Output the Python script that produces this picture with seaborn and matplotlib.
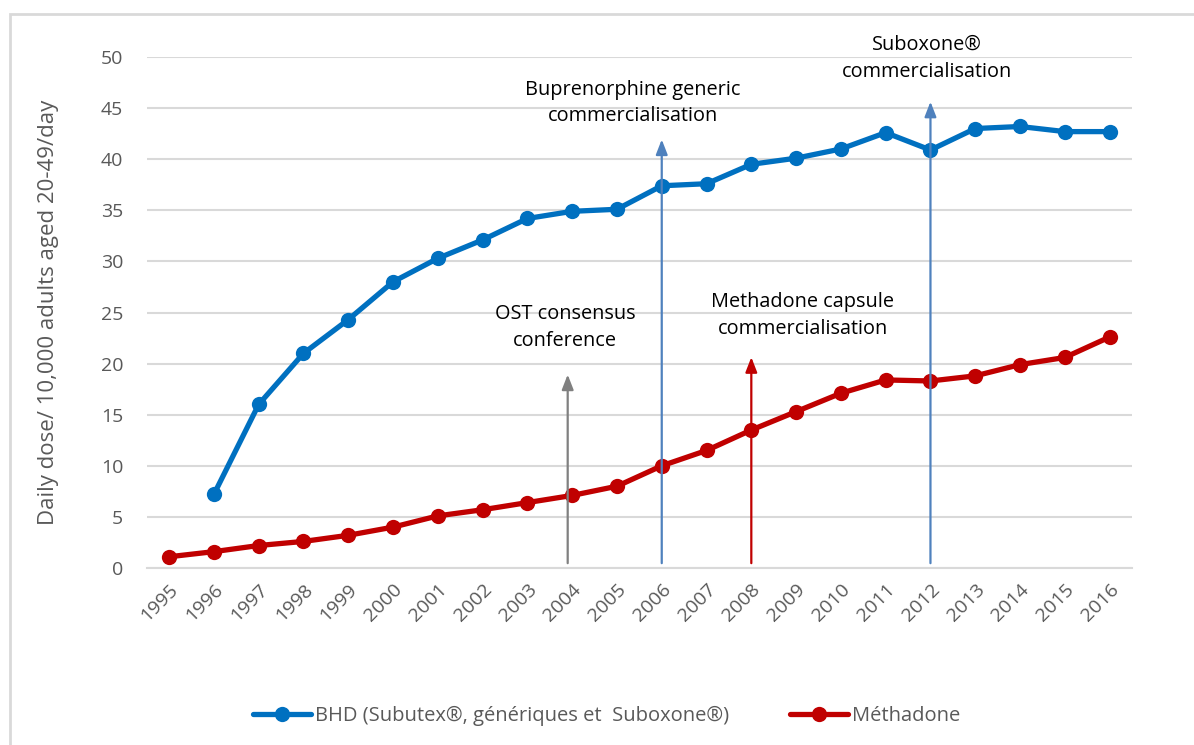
import matplotlib
matplotlib.use("Agg")
import matplotlib.pyplot as plt
import seaborn as sns
import pandas as pd
from matplotlib.patches import Rectangle

# --- values ---
years = list(range(1995, 2017))
bhd_years = list(range(1996, 2017))
bhd = [7.2, 16.0, 21.0, 24.3, 28.0, 30.3, 32.1, 34.2, 34.9, 35.1, 37.4,
       37.6, 39.5, 40.1, 41.0, 42.6, 40.9, 43.0, 43.2, 42.7, 42.7]
methadone = [1.1, 1.6, 2.2, 2.6, 3.2, 4.0, 5.1, 5.7, 6.4, 7.1, 8.0, 10.0,
             11.5, 13.5, 15.3, 17.1, 18.4, 18.3, 18.8, 19.9, 20.6, 22.6]

series_names = ["BHD (Subutex®, génériques et  Suboxone®)", "Méthadone"]
series_colors = ["#0070C0", "#C00000"]

# events: arrow position, arrow top, label text, label centre
event_years = [2003.9, 2006, 2008, 2012]
event_tops = [19.2, 42.2, 20.9, 45.9]
event_labels = ["OST consensus\nconference",
                "Buprenorphine generic\ncommercialisation",
                "Methadone capsule\ncommercialisation",
                "Suboxone®\ncommercialisation"]
event_label_x = [2003.84, 2005.36, 2009.15, 2011.92]
event_label_y = [23.5, 45.5, 24.7, 49.85]
event_colors = ["#808080", "#4F81BD", "#C00000", "#4F81BD"]

df = pd.concat([
    pd.DataFrame({"year": bhd_years, "value": bhd, "serie": series_names[0]}),
    pd.DataFrame({"year": years, "value": methadone, "serie": series_names[1]}),
])

sns.set_style("white")
plt.rcParams["font.family"] = ["Open Sans", "DejaVu Sans"]

fig = plt.figure(figsize=(11.94, 7.45), dpi=100)
ax = fig.add_axes([146.7 / 1194, 1 - 568 / 745, (1132 - 146.7) / 1194, (568 - 57) / 745])

sns.lineplot(data=df, x="year", y="value", hue="serie", palette=series_colors,
             hue_order=series_names, marker="o", markersize=11, linewidth=3.8,
             markeredgewidth=0, ax=ax, legend=False, zorder=3)

ax.set_xlim(1994.5, 2016.5)
ax.set_ylim(0, 50)
ax.set_yticks(range(0, 51, 5))
ax.yaxis.grid(True, color="#D9D9D9", linewidth=1.5)
ax.set_xticks(years)
ax.set_xticklabels([str(y) for y in years], rotation=45, ha="right",
                   rotation_mode="anchor", fontsize=14, color="#595959")
ax.set_xticks([y - 0.5 for y in years] + [2016.5], minor=True)
ax.tick_params(axis="x", which="major", length=0, pad=9)
ax.tick_params(axis="x", which="minor", length=7, color="#D9D9D9", width=1.5)
ax.tick_params(axis="y", length=0, labelsize=14, labelcolor="#595959", pad=17)
for s in ["top", "right", "left"]:
    ax.spines[s].set_visible(False)
ax.spines["bottom"].set_color("#D9D9D9")
ax.spines["bottom"].set_linewidth(1.5)
ax.set_xlabel("")
ax.set_ylabel("Daily dose/ 10,000 adults aged 20-49/day", fontsize=16,
              color="#595959", labelpad=30)

for x, top, lab, lx, ly, c in zip(event_years, event_tops, event_labels,
                                   event_label_x, event_label_y, event_colors):
    ax.annotate("", xy=(x, top), xytext=(x, 0.2),
                arrowprops=dict(arrowstyle="-|>,head_length=0.9,head_width=0.35",
                                color=c, lw=1.6), zorder=4)
    ax.text(lx, ly, lab, ha="center", va="center", fontsize=14.3,
            color="black", linespacing=1.45, zorder=5)

handles = [plt.Line2D([], [], color=c, marker="o", markersize=11, linewidth=3.8,
                      markeredgewidth=0) for c in series_colors]
fig.legend(handles, series_names, loc="center", bbox_to_anchor=(0.508, 1 - 716 / 745),
           ncol=2, frameon=False, fontsize=14.5, handlelength=2.9,
           columnspacing=3.0, handletextpad=0.2, labelcolor="#595959")

fig.patches.append(Rectangle((10 / 1194, -0.05), 1.1, 1 - 14 / 745 + 0.05,
                             transform=fig.transFigure, fill=False,
                             edgecolor="#D9D9D9", linewidth=2))

fig.savefig("out.png", dpi=100)
